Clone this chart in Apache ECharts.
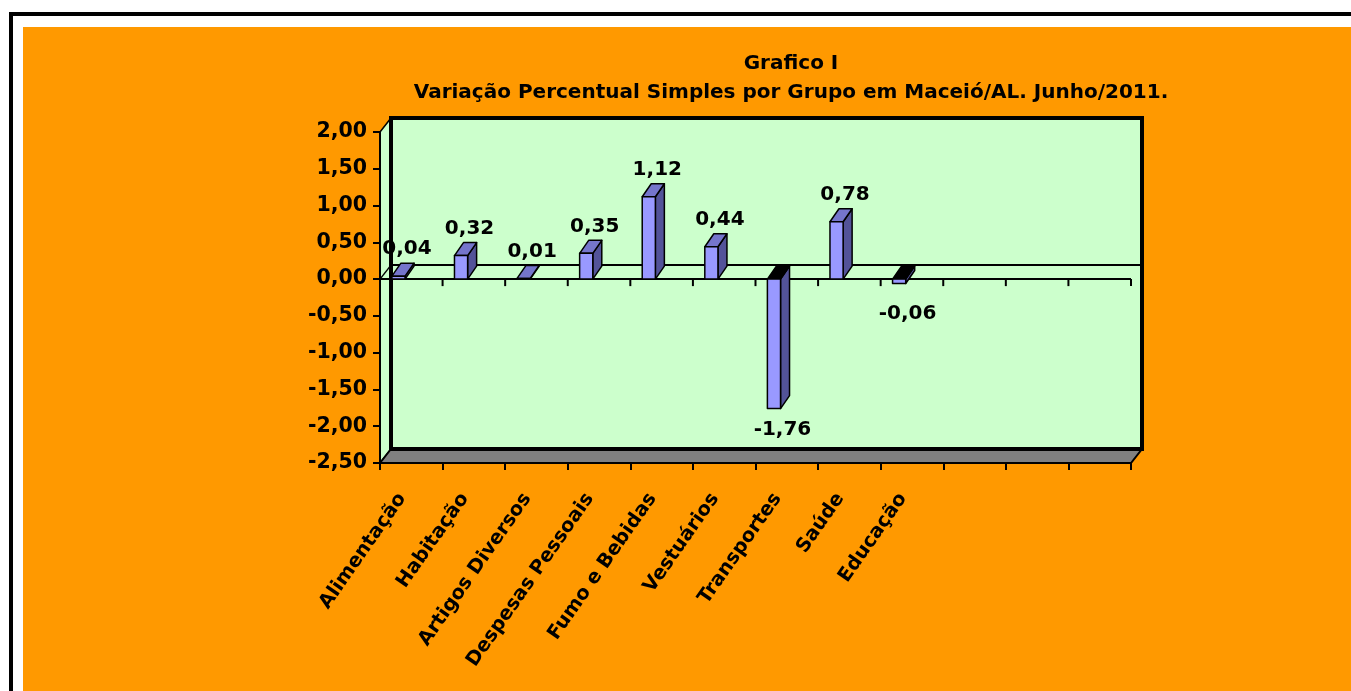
<!DOCTYPE html>
<html><head><meta charset="utf-8">
<script src="https://cdn.jsdelivr.net/npm/echarts@6/dist/echarts.min.js"></script>
<style>
html,body{margin:0;padding:0;background:#fff;overflow:hidden;width:1351px;height:691px;}
#frame{position:absolute;left:9px;top:12px;width:1500px;height:900px;border:4px solid #000;box-sizing:border-box;}
#orange{position:absolute;left:23px;top:27px;width:1500px;height:900px;background:#FF9900;}
#chart{position:absolute;left:0;top:0;width:1351px;height:691px;}
</style></head><body>
<div id="frame"></div><div id="orange"></div><div id="chart"></div>
<script>
// ---- data ----
const categories = ['Alimentação','Habitação','Artigos Diversos','Despesas Pessoais','Fumo e Bebidas','Vestuários','Transportes','Saúde','Educação',' ','  ','   '];
const values = [0.04, 0.32, 0.01, 0.35, 1.12, 0.44, -1.76, 0.78, -0.06];
const yMin = -2.5, yMax = 2, yStep = 0.5;
const titleLines = ['Grafico I', 'Variação Percentual Simples por Grupo em Maceió/AL. Junho/2011.'];

// ---- style ----
const FONT = '"DejaVu Sans", Arial, sans-serif';
const GREEN = '#CCFFCC';
const FRONT = '#9999FF', SIDE = '#535399', TOPC = '#7575CC';
const DX = 11, DY = -14;      // wall depth
const BDX = 9, BDY = -13;     // bar depth
const fmt = v => v.toFixed(2).replace('.', ',');

function renderWalls(params, api) {
  const cs = params.coordSys;
  const L = cs.x, R = cs.x + cs.width, T = cs.y, B = cs.y + cs.height;
  const z0 = api.coord([0, 0])[1];
  const bw = cs.width / categories.length;
  const ch = [];
  ch.push({type:'rect', shape:{x:L+DX, y:T+DY, width:cs.width, height:cs.height}, style:{fill:GREEN}});
  ch.push({type:'polygon', shape:{points:[[L,T],[L+DX,T+DY],[L+DX,B+DY],[L,B]]}, style:{fill:GREEN, stroke:'#000', lineWidth:1.5}});
  ch.push({type:'polygon', shape:{points:[[L,B],[L+DX,B+DY],[R+DX,B+DY],[R,B]]}, style:{fill:'#808080', stroke:'#000', lineWidth:2}});
  ch.push({type:'rect', shape:{x:L+DX, y:T+DY, width:cs.width, height:cs.height}, style:{fill:null, stroke:'#000', lineWidth:4}});
  ch.push({type:'line', shape:{x1:L+DX, y1:z0+DY, x2:R+DX, y2:z0+DY}, style:{stroke:'#000', lineWidth:2}});
  ch.push({type:'line', shape:{x1:L, y1:z0, x2:R, y2:z0}, style:{stroke:'#000', lineWidth:2}});
  ch.push({type:'line', shape:{x1:L, y1:z0, x2:L+DX, y2:z0+DY}, style:{stroke:'#000', lineWidth:1.5}});
  for (let k = 0; k <= categories.length; k++) {
    const x = L + k * bw;
    ch.push({type:'line', shape:{x1:x, y1:z0, x2:x, y2:z0+7}, style:{stroke:'#000', lineWidth:2}});
  }
  return {type:'group', children:ch};
}

function renderBar(params, api) {
  const idx = api.value(0), v = api.value(1);
  const bw = api.size([1, 0])[0];
  const c = api.coord([idx, v]);
  const z = api.coord([idx, 0]);
  const x0 = c[0] - bw/2 + 0.19*bw, w = 0.21*bw;
  const yTop = Math.min(c[1], z[1]), yBot = Math.max(c[1], z[1]);
  const ls = {stroke:'#000', lineWidth:1.5, lineJoin:'round'};
  const ch = [];
  ch.push({type:'polygon', shape:{points:[[x0+w,yTop],[x0+w+BDX,yTop+BDY],[x0+w+BDX,yBot+BDY],[x0+w,yBot]]}, style:Object.assign({fill:SIDE}, ls)});
  ch.push({type:'polygon', shape:{points:[[x0,yTop],[x0+BDX,yTop+BDY],[x0+w+BDX,yTop+BDY],[x0+w,yTop]]}, style:Object.assign({fill: v < 0 ? '#000' : TOPC}, ls)});
  ch.push({type:'rect', shape:{x:x0, y:yTop, width:w, height:yBot-yTop}, style:Object.assign({fill:FRONT}, ls)});
  const cx = x0 + (w + BDX)/2 + 4;
  const ly = v >= 0 ? yTop + BDY - 4 : yBot + (v > -0.2 ? 20 : 11);
  ch.push({type:'text', style:{text:fmt(v), x:cx, y:ly, font:'bold 20px ' + FONT, fill:'#000',
    align:'center', textAlign:'center', verticalAlign: v>=0?'bottom':'top', textVerticalAlign: v>=0?'bottom':'top'}});
  return {type:'group', children:ch};
}

const chart = echarts.init(document.getElementById('chart'), null, {renderer:'canvas'});
chart.setOption({
  backgroundColor: 'transparent',
  animation: false,
  title: {
    text: titleLines.join('\n'), left: 786, top: 44, textAlign: 'center',
    textStyle: {fontSize: 20, fontWeight: 'bold', color: '#000', fontFamily: FONT, lineHeight: 29}
  },
  grid: {left: 380, top: 132, width: 751, height: 331},
  xAxis: {
    type: 'category', data: categories, z: 5,
    axisLine: {onZero: false, lineStyle: {color: '#000', width: 2}},
    axisTick: {show: true, interval: 0, length: 7, lineStyle: {color: '#000', width: 2}},
    axisLabel: {interval: 0, rotate: 55, margin: 19, padding: [0, 16, 0, 0], fontWeight: 'bold', fontSize: 19.5, color: '#000', fontFamily: FONT},
    splitLine: {show: false}
  },
  yAxis: {
    type: 'value', min: yMin, max: yMax, interval: yStep, z: 5,
    axisLine: {show: true, lineStyle: {color: '#000', width: 2}},
    axisTick: {show: true, length: 7, lineStyle: {color: '#000', width: 2}},
    splitLine: {show: false},
    axisLabel: {formatter: fmt, color: '#000', fontWeight: 'bold', fontSize: 20.5, fontFamily: FONT, margin: 13}
  },
  series: [
    {type: 'custom', z: 1, renderItem: renderWalls, data: [[0, 0]], silent: true},
    {type: 'custom', z: 3, renderItem: renderBar, data: values.map((v, i) => [i, v])}
  ]
});
</script></body></html>
